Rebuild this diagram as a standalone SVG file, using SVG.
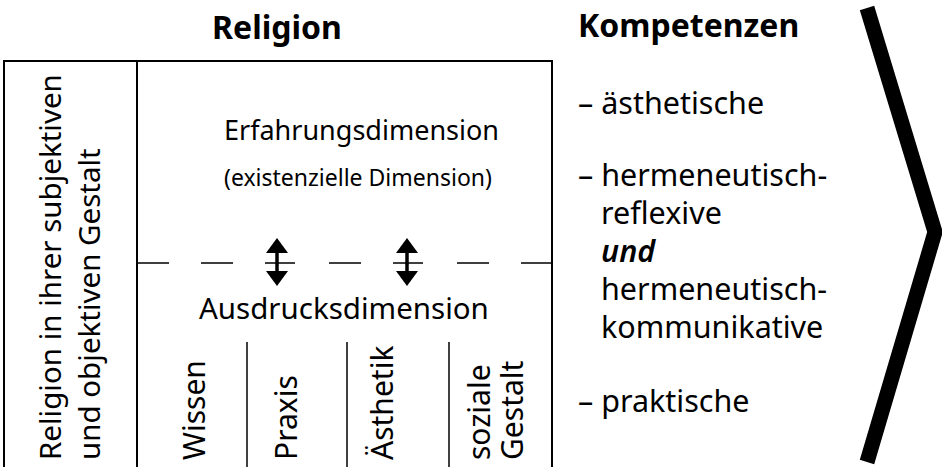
<svg xmlns="http://www.w3.org/2000/svg" width="942" height="467" viewBox="0 0 942 467">
<style>
text{font-family:"Noto Sans","Open Sans","Liberation Sans",sans-serif;fill:#000}
.h{font-weight:bold;font-size:32px}
.lbl{font-size:29.5px}
.col{font-size:30px}
.frame{fill:none;stroke:#000;stroke-width:2}
.thin{fill:none;stroke:#000;stroke-width:1.5}
.li{font-size:30.5px}
.arr{stroke:#000;stroke-width:3.5;marker-end:url(#ah)}
</style>
<defs>
<marker id="ah" viewBox="0 0 15 22" refX="0" refY="11" markerWidth="15" markerHeight="22" markerUnits="userSpaceOnUse" orient="auto">
<path d="M0,0 L15,11 L0,22 Z" fill="#000"/>
</marker>
</defs>
<rect width="942" height="467" fill="#fff"/>

<g id="title-religion"><text class="h" x="277" y="39" text-anchor="middle">Religion</text></g>
<g id="title-kompetenzen"><text class="h" x="578" y="37">Kompetenzen</text></g>

<g id="frame">
<path class="frame" d="M4,467 V61 H552 V467"/>
<line class="frame" x1="137" y1="61" x2="137" y2="467"/>
</g>

<g id="left-column">
<text class="lbl" transform="translate(61,460) rotate(-90)">Religion in ihrer subjektiven</text>
<text class="lbl" transform="translate(100,460) rotate(-90)">und objektiven Gestalt</text>
</g>

<g id="erfahrungsdimension">
<text x="224" y="140" font-size="27">Erfahrungsdimension</text>
<text x="224" y="186" font-size="23">(existenzielle Dimension)</text>
</g>

<g id="divider">
<path class="thin" d="M137,263 H169 M201,263 H233 M265,263 H295 M329,263 H361 M393,263 H423 M457,263 H489 M521,263 H552"/>
</g>

<g id="connectors">
<line class="arr" x1="277" y1="262" x2="277" y2="253"/>
<line class="arr" x1="277" y1="262" x2="277" y2="271"/>
<line class="arr" x1="407" y1="262" x2="407" y2="253"/>
<line class="arr" x1="407" y1="262" x2="407" y2="271"/>
</g>

<g id="ausdrucksdimension">
<text x="199" y="319" font-size="29.5">Ausdrucksdimension</text>
<line class="thin" x1="247" y1="342" x2="247" y2="467"/>
<line class="thin" x1="347" y1="342" x2="347" y2="467"/>
<line class="thin" x1="449" y1="342" x2="449" y2="467"/>
</g>

<g id="col-wissen"><text class="col" transform="translate(205,460) rotate(-90)">Wissen</text></g>
<g id="col-praxis"><text class="col" transform="translate(297,460) rotate(-90)">Praxis</text></g>
<g id="col-aesthetik"><text class="col" transform="translate(393,460) rotate(-90)">Ästhetik</text></g>
<g id="col-sozial">
<text class="col" transform="translate(490,460) rotate(-90)">soziale</text>
<text class="col" transform="translate(523,460) rotate(-90)">Gestalt</text>
</g>

<g id="kompetenz-list">
<text class="li" x="578" y="114">– ästhetische</text>
<text class="li" x="578" y="186">– hermeneutisch-<tspan x="601" y="224">reflexive</tspan><tspan x="601" y="262" font-style="italic" font-weight="600">und</tspan><tspan x="601" y="300">hermeneutisch-</tspan><tspan x="601" y="338">kommunikative</tspan></text>
<text class="li" x="578" y="412">– praktische</text>
</g>

<g id="chevron">
<polyline points="867,8 935,232 867,462" fill="none" stroke="#000" stroke-width="15" stroke-linejoin="miter" stroke-miterlimit="10"/>
</g>
</svg>
